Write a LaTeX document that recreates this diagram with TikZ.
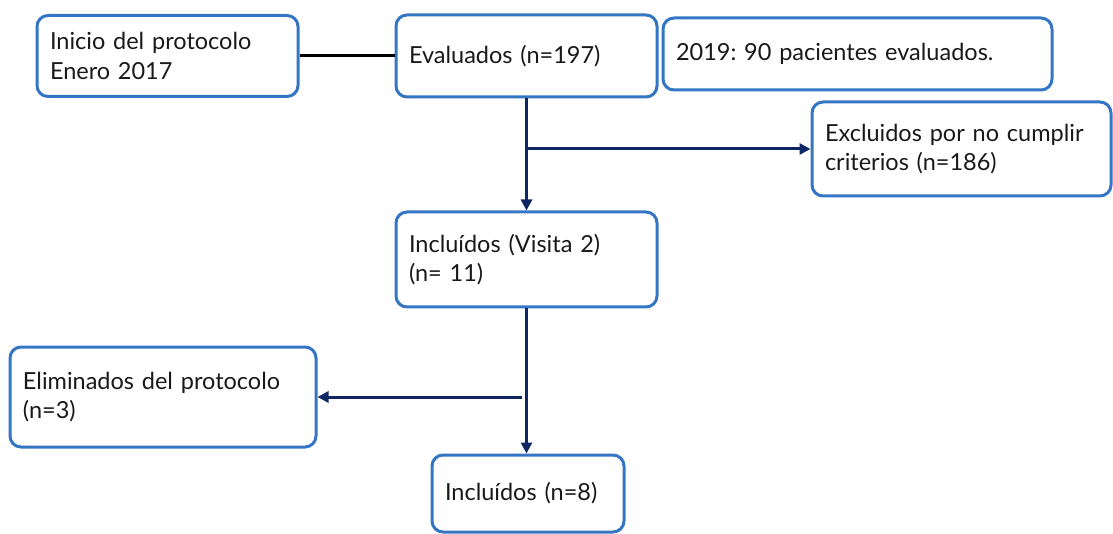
\documentclass[tikz,border=0pt]{standalone}
\usepackage{fontspec}
\setmainfont{Lato}
\usetikzlibrary{arrows.meta}
\definecolor{boxblue}{RGB}{52,118,196}
\definecolor{navy}{RGB}{14,38,100}
\begin{document}
\begin{tikzpicture}[x=1pt,y=1pt,
  bx/.style={draw=boxblue, line width=3pt, rounded corners=11pt, fill=white,
    align=left, inner xsep=13pt, inner ysep=0pt, font=\fontsize{23.5}{29.5}\selectfont\frenchspacing, text=black!90},
  arr/.style={draw=navy, line width=3pt, -{Triangle[length=11pt,width=11pt]}},
  ln/.style={draw=black, line width=3pt}]
\useasboundingbox (0,0) rectangle (1113,-534);
\node[bx, text width=235pt, minimum height=81pt] (b1) at (167.5,-56) {Inicio del protocolo\\Enero 2017};
\node[bx, text width=235pt, minimum height=82pt] (b2) at (526.5,-56) {Evaluados (n=197)};
\node[bx, text width=363pt, minimum height=72pt] (b3) at (857.5,-54) {2019: 90 pacientes evaluados.};
\node[bx, text width=273pt, minimum height=94pt] (b4) at (961.5,-149) {Excluidos por no cumplir\\criterios (n=186)};
\node[bx, text width=235pt, minimum height=95pt] (b5) at (526.5,-259.5) {Incluídos (Visita 2)\\(n= 11)};
\node[bx, text width=280pt, minimum height=100pt] (b6) at (163,-397) {Eliminados del protocolo\\(n=3)};
\node[bx, text width=166pt, minimum height=77pt] (b7) at (528,-493.5) {Incluídos (n=8)};
\draw[ln] (b1.east) -- (b1.east -| b2.west);
\draw[arr] (b2.south) -- (b5.north);
\coordinate (j1) at (b2.south |- b4.west);
\draw[arr] (j1) -- (b4.west);
\draw[arr] (b5.south) -- (b5.south |- b7.north);
\coordinate (j2) at ([xshift=-5pt]b5.south |- b6.east);
\draw[arr] (j2) -- (b6.east);
\end{tikzpicture}
\end{document}
